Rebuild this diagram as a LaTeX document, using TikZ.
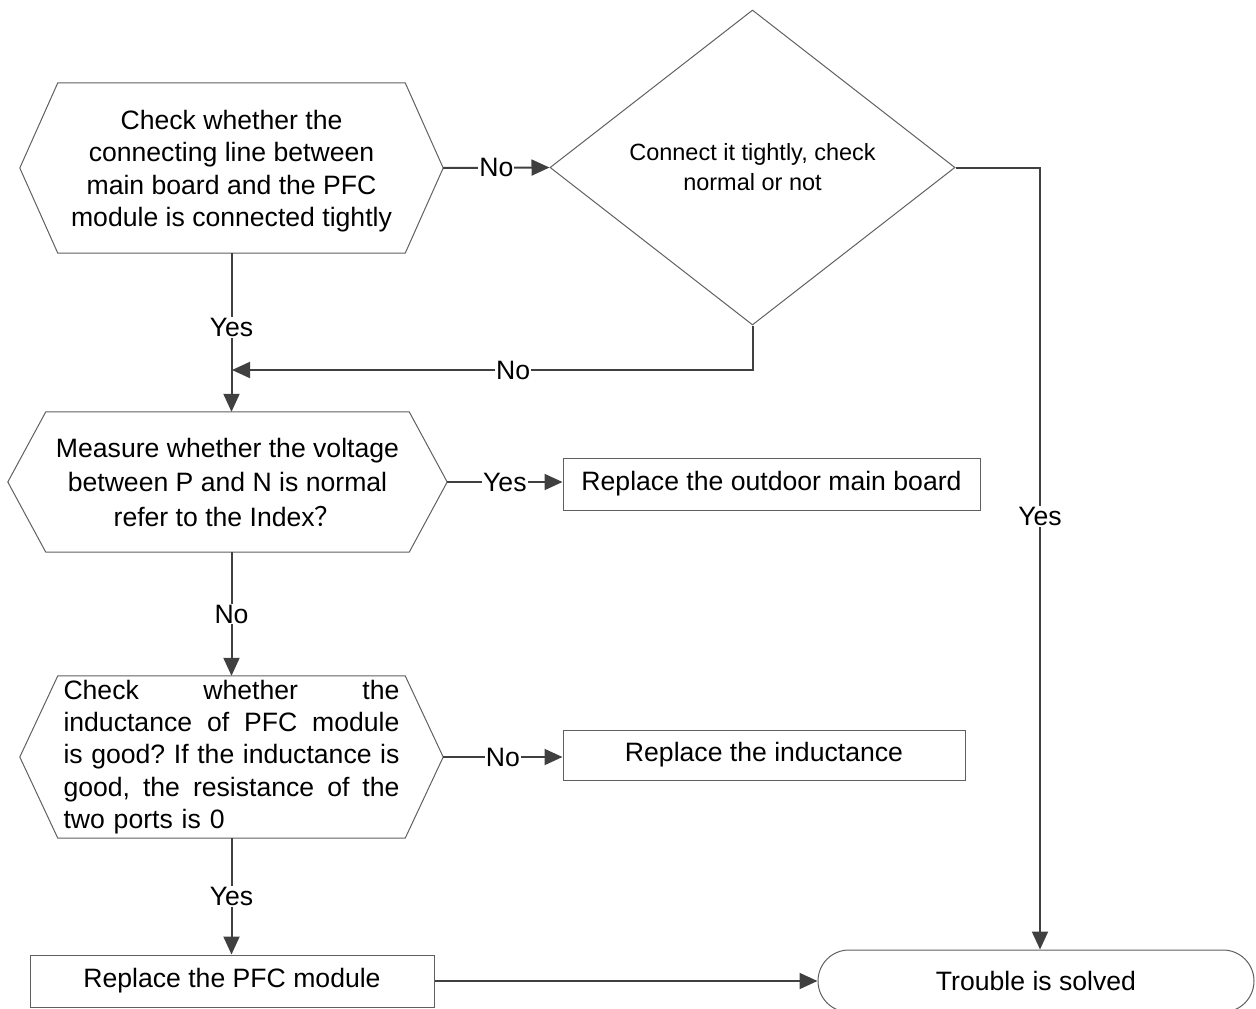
\documentclass[tikz,border=0pt]{standalone}
\usepackage{fontspec}
\setmainfont{Liberation Sans}
\newfontfamily\cjk{Noto Sans CJK SC}
\usetikzlibrary{shapes.geometric,arrows.meta,calc}
\definecolor{linegray}{RGB}{64,64,64}
\definecolor{bordergray}{RGB}{96,96,96}
\newcommand\hexdraw[2]{\draw[draw=bordergray,line width=1pt] (#1.west) -- ([xshift=#2pt]#1.north west) -- ([xshift=-#2pt]#1.north east) -- (#1.east) -- ([xshift=-#2pt]#1.south east) -- ([xshift=#2pt]#1.south west) -- cycle;}
\frenchspacing
\begin{document}
\begin{tikzpicture}[x=1pt,y=-1pt,
  conn/.style={draw=linegray,line width=2pt,-{Triangle[length=18pt,width=16pt]}},
  lbl/.style={fill=white,inner sep=1pt,text=black,font=\fontsize{26.6}{32}\selectfont},
  hexbox/.style={draw=none,inner sep=0pt,align=center,font=\fontsize{26.6}{32.5}\selectfont},
  box/.style={draw=bordergray,line width=1pt,inner sep=0pt,font=\fontsize{26.6}{32}\selectfont},
  dia/.style={diamond,draw=bordergray,line width=1pt,inner sep=0pt,align=center,font=\fontsize{23.5}{30}\selectfont},
]
\useasboundingbox (0,0) rectangle (1256,1009);

% nodes
\node[hexbox,minimum width=423pt,minimum height=170pt] (h1) at (231.5,168)
  {\rule{0pt}{25.5pt}Check whether the\\connecting line between\\main board and the PFC\\module is connected tightly};
\hexdraw{h1}{38}

\node[dia,minimum width=405pt,minimum height=315pt] (d) at (752.5,167.5)
  {Connect it tightly, check\\normal or not};

\node[hexbox,minimum width=439pt,minimum height=140pt,font=\fontsize{26.6}{34.5}\selectfont] (h2) at (227.5,482)
  {Measure whether the voltage\\between P and N is normal\\refer to the Index{\cjk ？}};
\hexdraw{h2}{38}

\node[box,minimum width=417pt,minimum height=52pt] (b1) at (771.5,484) {Replace the outdoor main board};

\node[hexbox,minimum width=423pt,minimum height=162pt,text width=336pt,align=left,font=\fontsize{26.6}{32.3}\selectfont] (h3) at (231.5,757)
  {\makebox[336pt]{Check\hfill whether\hfill the}\\
   \makebox[336pt]{inductance\hfill of\hfill PFC\hfill module}\\
   \makebox[336pt]{is\hfill good?\hfill If\hfill the\hfill inductance\hfill is}\\
   \makebox[336pt]{good,\hfill the\hfill resistance\hfill of\hfill the}\\
   two ports is 0};
\hexdraw{h3}{38}

\node[box,minimum width=402pt,minimum height=50pt] (b2) at (764,755) {Replace the inductance};

\node[box,minimum width=404pt,minimum height=52pt] (pfc) at (232,981) {Replace the PFC module};

\node[box,rounded corners=31pt,minimum width=436pt,minimum height=62pt] (t) at (1036,981) {Trouble is solved};

\coordinate (j1) at (232,370);

% connectors
\draw[conn] (h1.east) -- node[lbl]{No} (d.west);
\draw[conn] (h1.south) -- node[lbl,pos=0.47]{Yes} (h1.south |- h2.north);
\draw[conn] (d.south) |- node[lbl,pos=0.73]{No} (j1);
\draw[conn] (d.east) -| node[lbl,pos=0.723]{Yes} ([xshift=4pt]t.north);
\draw[conn] (h2.east) -- node[lbl]{Yes} (b1.west |- h2.east);
\draw[conn] (h3.north |- h2.south) -- node[lbl]{No} (h3.north);
\draw[conn] (h3.east) -- node[lbl]{No} (b2.west |- h3.east);
\draw[conn] (h3.south) -- node[lbl]{Yes} (h3.south |- pfc.north);
\draw[conn] (pfc.east) -- (t.west);
\end{tikzpicture}
\end{document}
